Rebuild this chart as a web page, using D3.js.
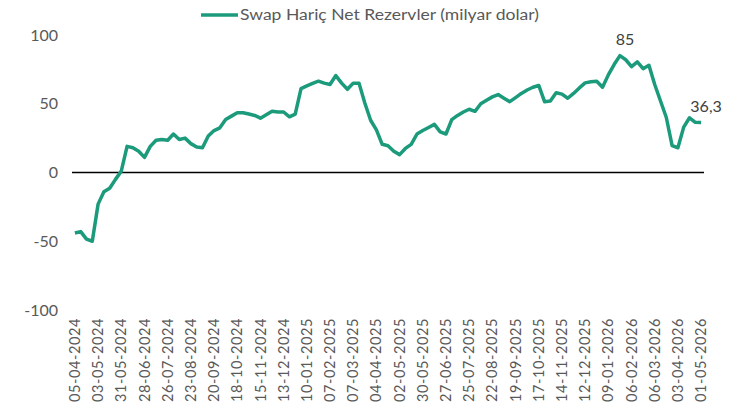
<!DOCTYPE html>
<html>
<head>
<meta charset="utf-8">
<script src="https://cdn.jsdelivr.net/npm/d3@7"></script>
<style>
  body { margin: 0; background: #fff; }
  svg { display: block; font-family: Lato, "Open Sans", sans-serif; }
</style>
</head>
<body>
<div id="chart"></div>
<script>
// DATA
const startDate = "2024-04-05";
const seriesName = "Swap Hariç Net Rezervler (milyar dolar)";
const reserves = [
  -44, -43, -48.5, -50, -23, -14, -11.5, -5, 1, 19,
  18, 15.5, 11, 19, 23.5, 24, 23.5, 28, 24, 25,
  21, 18.5, 18, 26.5, 30.5, 32.5, 38.5, 41, 43.5, 43.5,
  42.5, 41.5, 39.5, 42, 44.5, 44, 44, 40.5, 42.5, 61,
  63, 64.8, 66.4, 65, 64, 70.5, 65, 60.5, 65, 65,
  50.5, 38, 31, 20.5, 19.5, 15.5, 13, 17.5, 20.5, 28,
  30.5, 32.7, 35, 29.5, 28, 38.5, 41.5, 44, 46, 44.5,
  50, 52.5, 55, 56.7, 54, 51.5, 54.5, 57.5, 60, 62,
  63.3, 51.5, 52, 58, 57, 54, 57.5, 61.5, 65.2, 66,
  66.4, 62, 71, 78.5, 85, 82, 77, 80.5, 75.5, 78,
  64, 52, 40, 19.6, 18, 33, 39.8, 36.5, 36.3
];
const tickLabels = [
  "05-04-2024", "03-05-2024", "31-05-2024", "28-06-2024", "26-07-2024", "23-08-2024",
  "20-09-2024", "18-10-2024", "15-11-2024", "13-12-2024", "10-01-2025", "07-02-2025",
  "07-03-2025", "04-04-2025", "02-05-2025", "30-05-2025", "27-06-2025", "25-07-2025",
  "22-08-2025", "19-09-2025", "17-10-2025", "14-11-2025", "12-12-2025", "09-01-2026",
  "06-02-2026", "06-03-2026", "03-04-2026", "01-05-2026"
];
const yTicks = [-100, -50, 0, 50, 100];
const pointLabels = [
  { date: "23-01-2026", text: "85" },
  { date: "01-05-2026", text: "36,3" }
];

const W = 749, H = 411;
const lineColor = "#1b9b7b";
const textColor = "#595959";

const fmt = d3.utcFormat("%d-%m-%Y");
const start = new Date(startDate + "T00:00:00Z");
const data = reserves.map((v, i) => ({ date: fmt(d3.utcDay.offset(start, 7 * i)), value: v }));

const svg = d3.select("#chart").append("svg")
  .attr("width", W)
  .attr("height", H);

const x = d3.scaleBand()
  .domain(data.map(d => d.date))
  .range([72, 704]);
const xc = d => x(d) + x.bandwidth() / 2;

const y = d3.scaleLinear()
  .domain([-100, 100])
  .range([310, 35]);

// y axis labels
const yAxis = svg.append("g")
  .attr("transform", "translate(58,0)")
  .call(d3.axisLeft(y).tickValues(yTicks).tickSize(0).tickPadding(0).tickFormat(d => String(d)));
yAxis.select(".domain").remove();
yAxis.selectAll("text")
  .attr("fill", textColor)
  .style("font-size", "16px")
  .style("font-family", "Lato, sans-serif");

// zero line
svg.append("line")
  .attr("x1", 72).attr("x2", 704)
  .attr("y1", y(0)).attr("y2", y(0))
  .attr("stroke", "#000")
  .attr("stroke-width", 1.5);

// x axis labels (rotated)
const xAxis = svg.append("g")
  .attr("transform", `translate(0,${y(-100)})`)
  .call(d3.axisBottom(x).tickValues(tickLabels).tickSize(0).tickPadding(0));
xAxis.select(".domain").remove();
xAxis.selectAll("text")
  .attr("fill", textColor)
  .style("font-size", "14.5px")
  .style("font-family", "Lato, sans-serif")
  .style("letter-spacing", "0.6px")
  .attr("text-anchor", "end")
  .attr("transform", "rotate(-90)")
  .attr("x", -8)
  .attr("y", 0)
  .attr("dy", "0.35em");

// line
const line = d3.line()
  .x(d => xc(d.date))
  .y(d => y(d.value));

svg.append("path")
  .datum(data)
  .attr("fill", "none")
  .attr("stroke", lineColor)
  .attr("stroke-width", 3.5)
  .attr("stroke-linejoin", "round")
  .attr("d", line);

// data labels
const byDate = new Map(data.map(d => [d.date, d]));
svg.selectAll(".plabel")
  .data(pointLabels)
  .enter()
  .append("text")
  .attr("class", "plabel")
  .attr("x", d => xc(d.date) + 5)
  .attr("y", d => y(byDate.get(d.date).value) - 10.5)
  .attr("text-anchor", "middle")
  .attr("fill", "#404040")
  .style("font-size", "16px")
  .text(d => d.text);

// legend
const lg = svg.append("g");
lg.append("line")
  .attr("x1", 201).attr("x2", 238)
  .attr("y1", 15).attr("y2", 15)
  .attr("stroke", lineColor)
  .attr("stroke-width", 3.5);
lg.append("text")
  .attr("x", 240)
  .attr("y", 20)
  .attr("fill", textColor)
  .style("font-size", "15.5px")
  .attr("textLength", 299)
  .attr("lengthAdjust", "spacingAndGlyphs")
  .text(seriesName);
</script>
</body>
</html>
